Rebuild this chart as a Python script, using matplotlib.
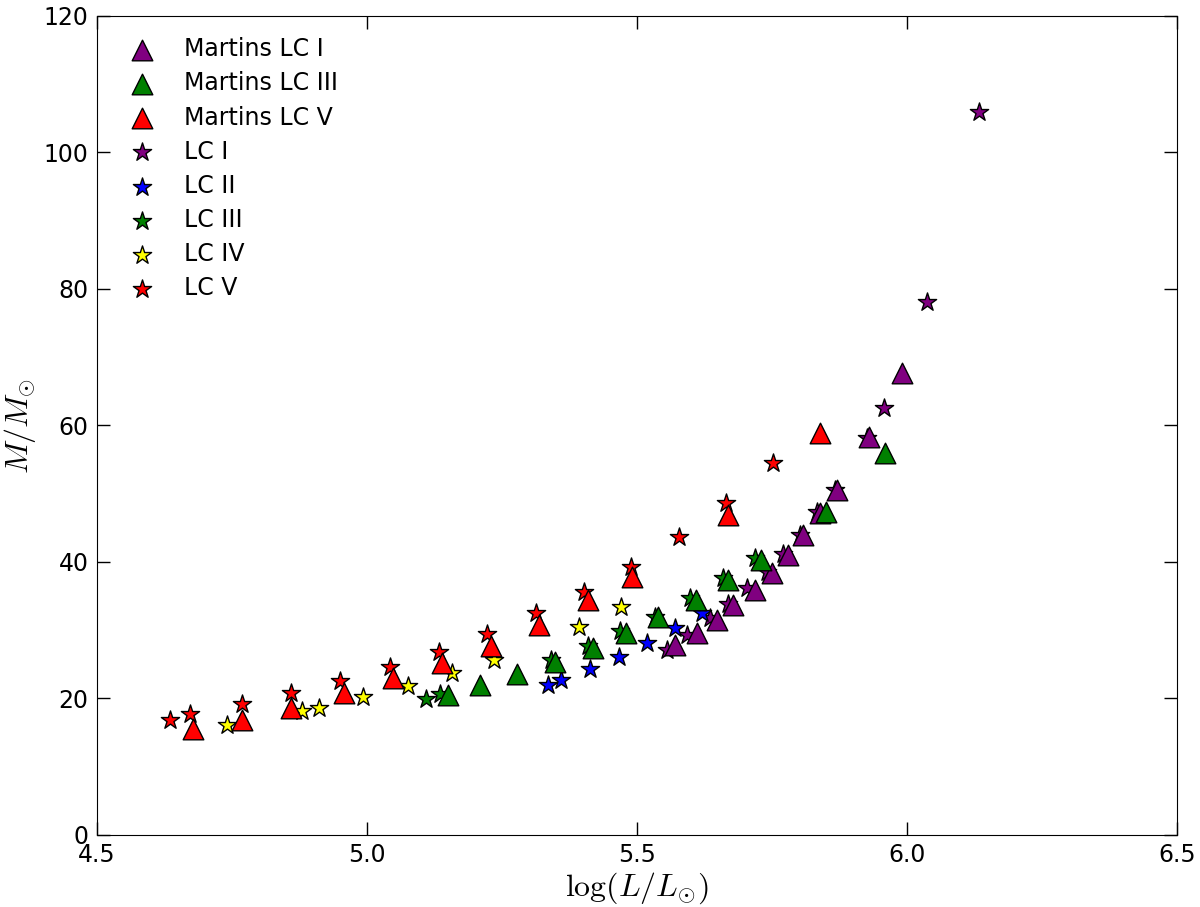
import matplotlib
matplotlib.use("Agg")
import matplotlib.pyplot as plt

# Martins calibration (triangles)
martins_I_logL = [5.570, 5.611, 5.648, 5.678, 5.719, 5.750, 5.780, 5.807, 5.839, 5.870, 5.930, 5.991]
martins_I_mass = [27.8, 29.6, 31.5, 33.7, 35.9, 38.4, 41.0, 44.0, 47.2, 50.5, 58.3, 67.7]

martins_III_logL = [5.150, 5.209, 5.278, 5.348, 5.419, 5.480, 5.539, 5.609, 5.669, 5.730, 5.850, 5.959]
martins_III_mass = [20.5, 22.0, 23.6, 25.3, 27.4, 29.6, 31.9, 34.4, 37.4, 40.3, 47.3, 56.0]

martins_V_logL = [4.678, 4.769, 4.859, 4.957, 5.048, 5.139, 5.230, 5.319, 5.409, 5.491, 5.669, 5.839]
martins_V_mass = [15.5, 16.9, 18.6, 20.8, 23.0, 25.2, 27.7, 30.8, 34.4, 37.8, 46.9, 58.9]

# sample stars by luminosity class
lcI_logL = [5.556, 5.593, 5.635, 5.669, 5.704, 5.741, 5.770, 5.802, 5.833, 5.867, 5.926, 5.957, 6.037, 6.133]
lcI_mass = [27.1, 29.3, 31.8, 33.8, 36.2, 38.5, 41.2, 44.0, 47.3, 50.5, 58.2, 62.6, 78.1, 105.9]

lcII_logL = [5.335, 5.359, 5.413, 5.467, 5.519, 5.570, 5.620]
lcII_mass = [22.0, 22.7, 24.3, 26.1, 28.1, 30.3, 32.5]

lcIII_logL = [5.109, 5.135, 5.341, 5.409, 5.469, 5.533, 5.598, 5.659, 5.719]
lcIII_mass = [19.9, 20.7, 25.6, 27.7, 29.9, 31.9, 34.7, 37.7, 40.6]

lcIV_logL = [4.741, 4.880, 4.911, 4.993, 5.076, 5.157, 5.235, 5.393, 5.470]
lcIV_mass = [16.1, 18.2, 18.6, 20.2, 21.8, 23.7, 25.6, 30.5, 33.4]

lcV_logL = [4.635, 4.672, 4.769, 4.859, 4.950, 5.043, 5.133, 5.222, 5.313, 5.402, 5.489, 5.578, 5.665, 5.752]
lcV_mass = [16.8, 17.7, 19.2, 20.8, 22.6, 24.6, 26.8, 29.5, 32.5, 35.6, 39.3, 43.7, 48.6, 54.5]

plt.rcParams["mathtext.fontset"] = "cm"

fig = plt.figure(figsize=(12, 9.07), dpi=100)
ax = fig.add_axes([0.0808, 0.0794, 0.9002, 0.903])

tri_size = 220
star_size = 190

ax.scatter(martins_I_logL, martins_I_mass, s=tri_size, marker="^", c="purple",
           edgecolors="black", linewidths=1, label="Martins LC I", zorder=3)
ax.scatter(martins_III_logL, martins_III_mass, s=tri_size, marker="^", c="green",
           edgecolors="black", linewidths=1, label="Martins LC III", zorder=3)
ax.scatter(martins_V_logL, martins_V_mass, s=tri_size, marker="^", c="red",
           edgecolors="black", linewidths=1, label="Martins LC V", zorder=3)

ax.scatter(lcI_logL, lcI_mass, s=star_size, marker="*", c="purple",
           edgecolors="black", linewidths=1, label="LC I", zorder=2)
ax.scatter(lcII_logL, lcII_mass, s=star_size, marker="*", c="blue",
           edgecolors="black", linewidths=1, label="LC II", zorder=2)
ax.scatter(lcIII_logL, lcIII_mass, s=star_size, marker="*", c="green",
           edgecolors="black", linewidths=1, label="LC III", zorder=2)
ax.scatter(lcIV_logL, lcIV_mass, s=star_size, marker="*", c="yellow",
           edgecolors="black", linewidths=1, label="LC IV", zorder=2)
ax.scatter(lcV_logL, lcV_mass, s=star_size, marker="*", c="red",
           edgecolors="black", linewidths=1, label="LC V", zorder=2)

ax.set_xlim(4.5, 6.5)
ax.set_ylim(0, 120)
ax.set_xticks([4.5, 5.0, 5.5, 6.0, 6.5])
ax.set_yticks([0, 20, 40, 60, 80, 100, 120])
ax.tick_params(direction="in", length=9.5, width=1, top=True, right=True,
               labelsize=17, pad=6)
ax.set_xlabel(r"$\log(L/L_{\odot})$", fontsize=23, labelpad=2)
ax.set_ylabel(r"$M/M_{\odot}$", fontsize=23, labelpad=4)

ax.legend(loc="upper left", frameon=False, scatterpoints=1, fontsize=17,
          labelspacing=0.43)

fig.savefig("out.png", dpi=100)
